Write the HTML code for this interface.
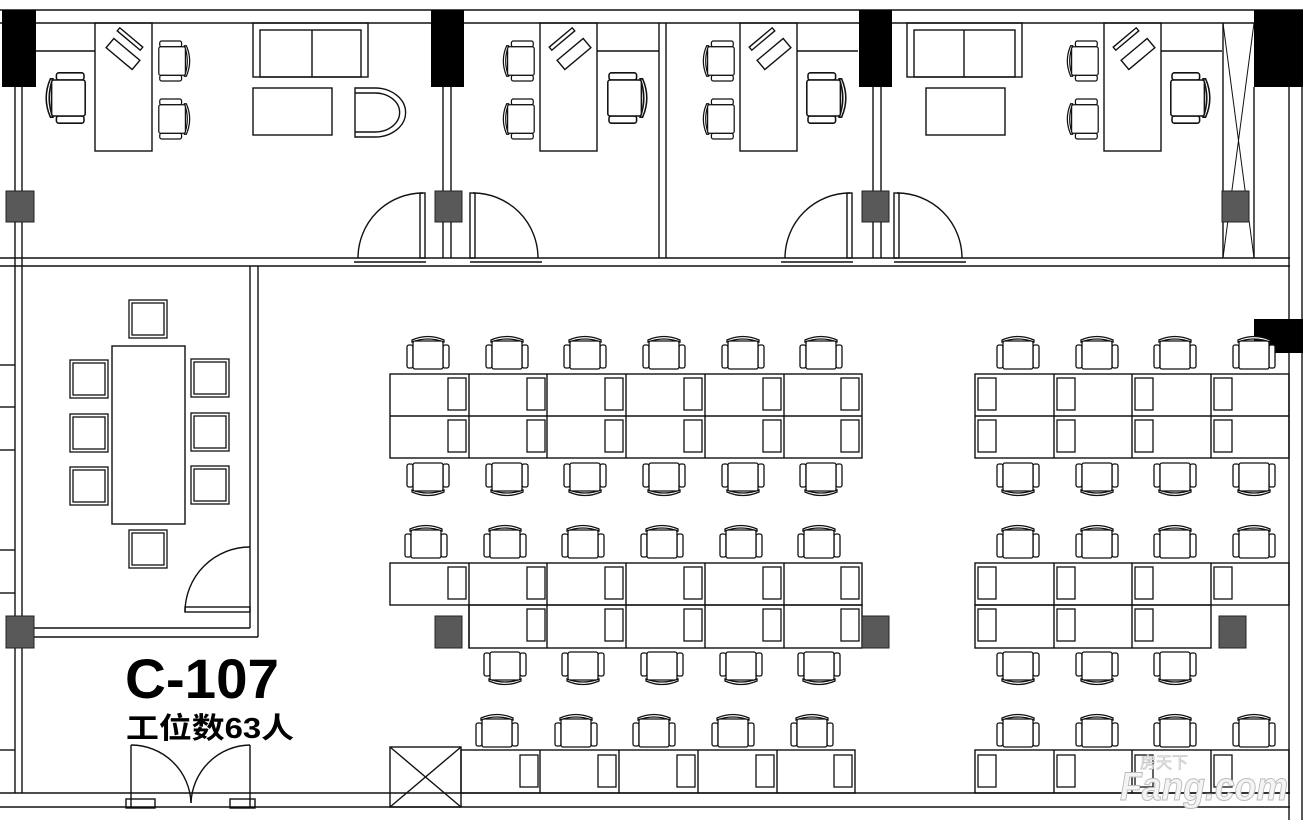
<!DOCTYPE html>
<html><head><meta charset="utf-8"><style>
html,body{margin:0;padding:0;background:#fff;}
svg{display:block;}
</style></head><body>
<svg width="1309" height="820" viewBox="0 0 1309 820" xmlns="http://www.w3.org/2000/svg">
<defs>
<g id="c" fill="#fff" stroke="#111" stroke-width="1.3">
<path d="M-16,-13 Q0,-20 16,-13 L16,-11 Q0,-17 -16,-11 Z"/>
<rect x="-21" y="-8" width="6" height="23" rx="2"/>
<rect x="15" y="-8" width="6" height="23" rx="2"/>
<rect x="-15" y="-12" width="30" height="28" rx="2"/>
</g>
<g id="m" fill="#fff" stroke="#111" stroke-width="1.3"><rect width="18" height="32"/></g>
<g id="mc"><rect x="0" y="0" width="38" height="38" fill="#fff" stroke="#111" stroke-width="1.3"/><rect x="3" y="3" width="32" height="32" fill="none" stroke="#111" stroke-width="1.3"/></g>
</defs>
<g fill="none" stroke="#111" stroke-width="1.4">
<line x1="0" y1="10" x2="1303" y2="10"/>
<line x1="0" y1="23" x2="1290" y2="23"/>
<line x1="0" y1="258" x2="1290" y2="258"/>
<line x1="0" y1="266" x2="1290" y2="266"/>
<line x1="15" y1="87" x2="15" y2="793"/>
<line x1="22" y1="87" x2="22" y2="793"/>
<line x1="1289" y1="87" x2="1289" y2="820"/>
<line x1="1302" y1="87" x2="1302" y2="820"/>
<line x1="0" y1="793" x2="1290" y2="793"/>
<line x1="0" y1="807" x2="1290" y2="807"/>
<line x1="0" y1="365" x2="15" y2="365"/><line x1="0" y1="407" x2="15" y2="407"/>
<line x1="0" y1="450" x2="15" y2="450"/><line x1="0" y1="550" x2="15" y2="550"/>
<line x1="0" y1="593" x2="15" y2="593"/><line x1="0" y1="750" x2="15" y2="750"/>
<line x1="443" y1="87" x2="443" y2="258"/><line x1="451" y1="87" x2="451" y2="258"/>
<line x1="659" y1="23" x2="659" y2="258"/><line x1="666" y1="23" x2="666" y2="258"/>
<line x1="873" y1="87" x2="873" y2="258"/><line x1="881" y1="87" x2="881" y2="258"/>
<line x1="1223" y1="23" x2="1223" y2="258"/><line x1="1254" y1="87" x2="1254" y2="258"/>
<line x1="1223" y1="23" x2="1254" y2="258" stroke-width="1"/><line x1="1254" y1="23" x2="1223" y2="258" stroke-width="1"/>
<line x1="36" y1="51" x2="95" y2="51"/>
<rect x="95" y="23" width="57" height="128"/>
<rect x="106" y="48" width="34" height="12" transform="rotate(40 123 54)"/>
<rect x="115" y="37" width="30" height="4" transform="rotate(40 130 39)"/>
<rect x="253" y="23" width="115" height="54"/><rect x="260" y="30" width="101" height="47"/><line x1="312" y1="30" x2="312" y2="77"/>
<rect x="253" y="88" width="79" height="47"/>
<path d="M355,88 L375,88 A30,24 0 0 1 375,137 L355,137 Z"/><path d="M355,93 L375,93 A24,19 0 0 1 375,132 L355,132"/>
<rect x="540" y="23" width="57" height="128"/>
<line x1="597" y1="51" x2="659" y2="51"/>
<rect x="557" y="48" width="34" height="12" transform="rotate(-40 574 54)"/>
<rect x="547" y="37" width="30" height="4" transform="rotate(-40 562 39)"/>
<rect x="740" y="23" width="57" height="128"/>
<line x1="797" y1="51" x2="858" y2="51"/>
<rect x="757" y="48" width="34" height="12" transform="rotate(-40 774 54)"/>
<rect x="747" y="37" width="30" height="4" transform="rotate(-40 762 39)"/>
<rect x="907" y="23" width="115" height="54"/><rect x="914" y="30" width="101" height="47"/><line x1="964" y1="30" x2="964" y2="77"/>
<rect x="926" y="88" width="79" height="47"/>
<rect x="1104" y="23" width="57" height="128"/>
<line x1="1161" y1="51" x2="1222" y2="51"/>
<rect x="1121" y="48" width="34" height="12" transform="rotate(-40 1138 54)"/>
<rect x="1111" y="37" width="30" height="4" transform="rotate(-40 1126 39)"/>
<rect x="420" y="193" width="5" height="65"/><path d="M423,193 A65,65 0 0 0 358,258"/><line x1="354" y1="262" x2="426" y2="262"/>
<rect x="470" y="193" width="5" height="65"/><path d="M473,193 A65,65 0 0 1 538,258"/><line x1="470" y1="262" x2="542" y2="262"/>
<rect x="847" y="193" width="5" height="65"/><path d="M850,193 A65,65 0 0 0 785,258"/><line x1="781" y1="262" x2="853" y2="262"/>
<rect x="894" y="193" width="5" height="65"/><path d="M897,193 A65,65 0 0 1 962,258"/><line x1="894" y1="262" x2="966" y2="262"/>
<line x1="250" y1="266" x2="250" y2="628"/><line x1="258" y1="266" x2="258" y2="637"/>
<line x1="22" y1="628" x2="250" y2="628"/><line x1="22" y1="637" x2="258" y2="637"/>
<rect x="112" y="346" width="73" height="178"/>
<rect x="185" y="607" width="65" height="5"/><path d="M250,547 A65,65 0 0 0 185,612"/>
<line x1="131" y1="745" x2="131" y2="808"/><path d="M131,745 A60,60 0 0 1 191,803"/>
<line x1="250" y1="745" x2="250" y2="808"/><path d="M250,745 A60,60 0 0 0 191,803"/>
<rect x="126" y="799" width="29" height="9"/><rect x="230" y="799" width="25" height="9"/>
<rect x="390" y="747" width="71" height="60"/><line x1="390" y1="747" x2="461" y2="807"/><line x1="461" y1="747" x2="390" y2="807"/>
<rect x="390" y="374" width="472" height="84"/><line x1="390" y1="416" x2="862" y2="416"/>
<line x1="469" y1="374" x2="469" y2="458"/><line x1="547" y1="374" x2="547" y2="458"/><line x1="626" y1="374" x2="626" y2="458"/><line x1="705" y1="374" x2="705" y2="458"/><line x1="784" y1="374" x2="784" y2="458"/>
<rect x="390" y="563" width="472" height="42"/><rect x="469" y="605" width="393" height="43"/>
<line x1="469" y1="563" x2="469" y2="648"/><line x1="547" y1="563" x2="547" y2="648"/><line x1="626" y1="563" x2="626" y2="648"/><line x1="705" y1="563" x2="705" y2="648"/><line x1="784" y1="563" x2="784" y2="648"/>
<rect x="461" y="750" width="394" height="43"/>
<line x1="540" y1="750" x2="540" y2="793"/><line x1="619" y1="750" x2="619" y2="793"/><line x1="698" y1="750" x2="698" y2="793"/><line x1="777" y1="750" x2="777" y2="793"/>
<rect x="975" y="374" width="314" height="84"/><line x1="975" y1="416" x2="1289" y2="416"/>
<line x1="1054" y1="374" x2="1054" y2="458"/><line x1="1132" y1="374" x2="1132" y2="458"/><line x1="1211" y1="374" x2="1211" y2="458"/>
<rect x="975" y="563" width="314" height="42"/><rect x="975" y="605" width="236" height="43"/>
<line x1="1054" y1="563" x2="1054" y2="648"/><line x1="1132" y1="563" x2="1132" y2="648"/><line x1="1211" y1="563" x2="1211" y2="605"/>
<rect x="975" y="750" width="314" height="43"/>
<line x1="1054" y1="750" x2="1054" y2="793"/><line x1="1132" y1="750" x2="1132" y2="793"/><line x1="1211" y1="750" x2="1211" y2="793"/>
</g>
<g fill="#000">
<rect x="2" y="10" width="34" height="77"/><rect x="431" y="10" width="33" height="77"/>
<rect x="859" y="10" width="33" height="77"/><rect x="1254" y="10" width="49" height="77"/>
<rect x="1254" y="319" width="49" height="34"/>
</g>
<g fill="#595959" stroke="#222" stroke-width="1">
<rect x="6" y="191" width="28" height="31"/><rect x="435" y="191" width="27" height="31"/>
<rect x="862" y="191" width="27" height="31"/><rect x="1222" y="191" width="27" height="31"/>
<rect x="6" y="616" width="28" height="32"/><rect x="435" y="616" width="27" height="32"/>
<rect x="862" y="616" width="27" height="32"/><rect x="1219" y="616" width="27" height="32"/>
</g>
<g>
<use href="#m" x="448" y="378"/><use href="#m" x="527" y="378"/><use href="#m" x="605" y="378"/><use href="#m" x="684" y="378"/><use href="#m" x="763" y="378"/><use href="#m" x="841" y="378"/>
<use href="#m" x="448" y="420"/><use href="#m" x="527" y="420"/><use href="#m" x="605" y="420"/><use href="#m" x="684" y="420"/><use href="#m" x="763" y="420"/><use href="#m" x="841" y="420"/>
<use href="#m" x="448" y="567"/><use href="#m" x="527" y="567"/><use href="#m" x="605" y="567"/><use href="#m" x="684" y="567"/><use href="#m" x="763" y="567"/><use href="#m" x="841" y="567"/>
<use href="#m" x="527" y="609"/><use href="#m" x="605" y="609"/><use href="#m" x="684" y="609"/><use href="#m" x="763" y="609"/><use href="#m" x="841" y="609"/>
<use href="#m" x="520" y="755"/><use href="#m" x="598" y="755"/><use href="#m" x="677" y="755"/><use href="#m" x="756" y="755"/><use href="#m" x="834" y="755"/>
<use href="#m" x="978" y="378"/><use href="#m" x="1057" y="378"/><use href="#m" x="1135" y="378"/><use href="#m" x="1214" y="378"/>
<use href="#m" x="978" y="420"/><use href="#m" x="1057" y="420"/><use href="#m" x="1135" y="420"/><use href="#m" x="1214" y="420"/>
<use href="#m" x="978" y="567"/><use href="#m" x="1057" y="567"/><use href="#m" x="1135" y="567"/><use href="#m" x="1214" y="567"/>
<use href="#m" x="978" y="609"/><use href="#m" x="1057" y="609"/><use href="#m" x="1135" y="609"/>
<use href="#m" x="978" y="755"/><use href="#m" x="1057" y="755"/><use href="#m" x="1135" y="755"/><use href="#m" x="1214" y="755"/>
</g>
<g>
<use href="#c" transform="translate(428,353)"/><use href="#c" transform="translate(507,353)"/><use href="#c" transform="translate(585,353)"/><use href="#c" transform="translate(664,353)"/><use href="#c" transform="translate(743,353)"/><use href="#c" transform="translate(821,353)"/>
<use href="#c" transform="translate(428,479) rotate(180)"/><use href="#c" transform="translate(507,479) rotate(180)"/><use href="#c" transform="translate(585,479) rotate(180)"/><use href="#c" transform="translate(664,479) rotate(180)"/><use href="#c" transform="translate(743,479) rotate(180)"/><use href="#c" transform="translate(821,479) rotate(180)"/>
<use href="#c" transform="translate(426,542)"/><use href="#c" transform="translate(505,542)"/><use href="#c" transform="translate(583,542)"/><use href="#c" transform="translate(662,542)"/><use href="#c" transform="translate(741,542)"/><use href="#c" transform="translate(819,542)"/>
<use href="#c" transform="translate(505,668) rotate(180)"/><use href="#c" transform="translate(583,668) rotate(180)"/><use href="#c" transform="translate(662,668) rotate(180)"/><use href="#c" transform="translate(741,668) rotate(180)"/><use href="#c" transform="translate(819,668) rotate(180)"/>
<use href="#c" transform="translate(497,731)"/><use href="#c" transform="translate(576,731)"/><use href="#c" transform="translate(654,731)"/><use href="#c" transform="translate(733,731)"/><use href="#c" transform="translate(812,731)"/>
<use href="#c" transform="translate(1018,353)"/><use href="#c" transform="translate(1097,353)"/><use href="#c" transform="translate(1175,353)"/><use href="#c" transform="translate(1254,353)"/>
<use href="#c" transform="translate(1018,479) rotate(180)"/><use href="#c" transform="translate(1097,479) rotate(180)"/><use href="#c" transform="translate(1175,479) rotate(180)"/><use href="#c" transform="translate(1254,479) rotate(180)"/>
<use href="#c" transform="translate(1018,542)"/><use href="#c" transform="translate(1097,542)"/><use href="#c" transform="translate(1175,542)"/><use href="#c" transform="translate(1254,542)"/>
<use href="#c" transform="translate(1018,668) rotate(180)"/><use href="#c" transform="translate(1097,668) rotate(180)"/><use href="#c" transform="translate(1175,668) rotate(180)"/>
<use href="#c" transform="translate(1018,731)"/><use href="#c" transform="translate(1097,731)"/><use href="#c" transform="translate(1175,731)"/><use href="#c" transform="translate(1254,731)"/>
<use href="#c" transform="translate(174,61) rotate(90) scale(0.95)"/><use href="#c" transform="translate(174,119) rotate(90) scale(0.95)"/>
<use href="#c" transform="translate(66,98) rotate(-90) scale(1.2)"/>
<use href="#c" transform="translate(519,61) rotate(-90) scale(0.95)"/><use href="#c" transform="translate(519,119) rotate(-90) scale(0.95)"/>
<use href="#c" transform="translate(627,98) rotate(90) scale(1.2)"/>
<use href="#c" transform="translate(719,61) rotate(-90) scale(0.95)"/><use href="#c" transform="translate(719,119) rotate(-90) scale(0.95)"/>
<use href="#c" transform="translate(826,98) rotate(90) scale(1.2)"/>
<use href="#c" transform="translate(1083,61) rotate(-90) scale(0.95)"/><use href="#c" transform="translate(1083,119) rotate(-90) scale(0.95)"/>
<use href="#c" transform="translate(1190,98) rotate(90) scale(1.2)"/>
</g>
<use href="#mc" x="129" y="300"/><use href="#mc" x="129" y="530"/>
<use href="#mc" x="70" y="360"/><use href="#mc" x="70" y="414"/><use href="#mc" x="70" y="467"/>
<use href="#mc" x="191" y="359"/><use href="#mc" x="191" y="413"/><use href="#mc" x="191" y="466"/>
<text x="125" y="698" font-family="'Liberation Sans', sans-serif" font-size="56" font-weight="bold" fill="#000" textLength="154" lengthAdjust="spacingAndGlyphs">C-107</text>
<text x="126" y="738" font-family="'Liberation Sans','Noto Sans CJK SC',sans-serif" font-size="29" font-weight="bold" fill="#000" textLength="168" lengthAdjust="spacingAndGlyphs">工位数63人</text>
<text x="1120" y="800" font-family="'Liberation Sans',sans-serif" font-size="40" font-weight="bold" font-style="italic" fill="#f4f4f4" stroke="#bbb" stroke-width="1" textLength="168" lengthAdjust="spacingAndGlyphs">Fang.com</text>
<text x="1140" y="768" font-family="'Liberation Sans','Noto Sans CJK SC',sans-serif" font-size="16" fill="#f4f4f4" stroke="#bbb" stroke-width="0.6">房天下</text>
</svg>
</body></html>
